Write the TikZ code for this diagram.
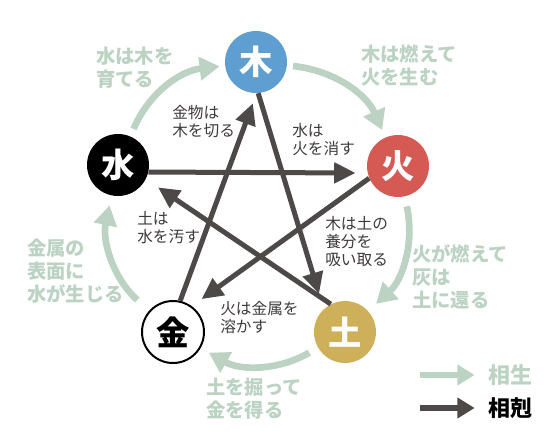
\documentclass[tikz,border=0pt]{standalone}
\usepackage{fontspec}
\setmainfont{Noto Sans CJK JP}
\usepackage{xcolor}
\usetikzlibrary{arrows.meta}

\definecolor{woodblue}{HTML}{5F9ED0}
\definecolor{firered}{HTML}{D65A54}
\definecolor{earthgold}{HTML}{CFB05A}
\definecolor{shenggreen}{HTML}{BCD3C4}
\definecolor{kegray}{HTML}{4D4948}
\definecolor{textgray}{HTML}{3E3A39}

\begin{document}
\begin{tikzpicture}[
    x=0.75pt, y=-0.75pt,
    element/.style={circle, minimum size=46.5pt, inner sep=0pt, text=white, font=\fontsize{25pt}{25pt}\selectfont\bfseries},
    sheng/.style={-{Triangle[length=15pt, width=17pt]}, line width=5pt, draw=shenggreen, bend left=30, shorten <=7pt, shorten >=6pt},
    ke/.style={-{Triangle[length=16pt, width=15pt]}, line width=3.75pt, draw=kegray},
    shenglabel/.style={anchor=base west, align=left, inner sep=0pt, text=shenggreen, font=\fontsize{14.5pt}{17.25pt}\selectfont\bfseries},
    kelabel/.style={anchor=base west, align=left, inner sep=0pt, text=textgray, font=\fontsize{11.75pt}{13.5pt}\selectfont},
    legendlabel/.style={anchor=west, inner sep=0pt, font=\fontsize{16.5pt}{16.5pt}\selectfont\bfseries},
    legendarrow/.style={-{Triangle[length=13pt, width=15pt]}, line width=4.5pt, shorten >=10pt}
]
    \useasboundingbox (0,0) rectangle (560,446);

    % the five elements
    \node[element, fill=woodblue] (mu) at (256,62) {木};
    \node[element, fill=firered] (huo) at (398,166) {火};
    \node[element, fill=earthgold] (tu) at (345,332) {土};
    \node[element, fill=white, draw=black, line width=1.5pt, text=black] (jin) at (173,332) {金};
    \node[element, fill=black] (shui) at (118,165) {水};

    % 相生
    \draw[sheng, shorten <=6pt, shorten >=4pt] (shui) to (mu);
    \draw[sheng, shorten <=4.5pt] (mu) to (huo);
    \draw[sheng, shorten <=7.5pt, shorten >=8pt] (huo) to (tu);
    \draw[sheng, shorten <=7.5pt, shorten >=7pt] (tu) to (jin);
    \draw[sheng, shorten <=12pt, shorten >=7.5pt] (jin) to (shui);

    % labels sit on the baseline of their last line
    \node[shenglabel] (l1) at (96,86) {水は木を\\育てる};
    \node[shenglabel] (l2) at (361,84) {木は燃えて\\火を生む};
    \node[shenglabel] (l3) at (412,307) {火が燃えて\\灰は\\土に還る};
    \node[shenglabel] (l4) at (206,417) {土を掘って\\金を得る};
    \node[shenglabel] (l5) at (27,301) {金属の\\表面に\\水が生じる};

    % 相剋
    \draw[ke, shorten >=9pt] (shui.-13) -- (huo.193);
    \draw[ke, shorten >=9pt] (huo.203) -- (jin.54);
    \draw[ke, shorten >=11pt] (tu.117) -- (shui.-27);
    \draw[ke, shorten >=12pt] (mu.-86) -- (tu.133);
    \draw[ke, shorten >=8pt] (jin.77) -- (mu.-89);

    \node[kelabel] (k1) at (172,136) {金物は\\木を切る};
    \node[kelabel] (k2) at (292,154) {水は\\火を消す};
    \node[kelabel] (k3) at (325,265) {木は土の\\養分を\\吸い取る};
    \node[kelabel] (k4) at (220,332) {火は金属を\\溶かす};
    \node[kelabel] (k5) at (137,242) {土は\\水を汚す};

    % legend
    \node[legendlabel, text=shenggreen] (shengkey) at (488,375) {相生};
    \node[legendlabel, text=black] (kekey) at (488,408) {相剋};
    \coordinate (shengtail) at (420,375);
    \coordinate (ketail) at (420,408);
    \draw[legendarrow, shenggreen] (shengtail) -- (shengkey);
    \draw[legendarrow, kegray] (ketail) -- (kekey);
\end{tikzpicture}
\end{document}
